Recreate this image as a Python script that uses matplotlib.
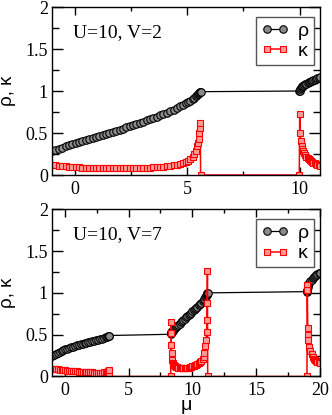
import matplotlib as mpl

mpl.use("Agg")
import matplotlib.pyplot as plt

plt.rcParams["font.family"] = ["Liberation Serif", "DejaVu Serif"]

# U=10, V=2 : chemical potential, density rho and compressibility kappa
mu_v2 = [
    -1.0, -0.85, -0.7, -0.55, -0.4, -0.25, -0.1, 0.05, 0.2, 0.35,
    0.5, 0.65, 0.8, 0.95, 1.1, 1.25, 1.4, 1.55, 1.7, 1.85,
    2.0, 2.15, 2.3, 2.45, 2.6, 2.75, 2.9, 3.05, 3.2, 3.35,
    3.5, 3.65, 3.8, 3.95, 4.1, 4.25, 4.4, 4.55, 4.7, 4.82,
    4.94, 5.05, 5.15, 5.24, 5.32, 5.39, 5.45, 5.5, 5.53, 5.55,
    5.57, 5.58, 5.6, 9.98,
    10.0, 10.02, 10.05, 10.08, 10.12, 10.16, 10.2, 10.25, 10.3, 10.35,
    10.4, 10.45, 10.5, 10.55, 10.6, 10.66, 10.72, 10.78, 10.84, 10.9,
]
rho_v2 = [
    0.285, 0.299, 0.313, 0.327, 0.341, 0.355, 0.369, 0.384, 0.396, 0.408,
    0.420, 0.432, 0.444, 0.456, 0.468, 0.480, 0.492, 0.504, 0.516, 0.528,
    0.540, 0.553, 0.567, 0.580, 0.594, 0.607, 0.621, 0.635, 0.650, 0.665,
    0.680, 0.695, 0.710, 0.725, 0.741, 0.759, 0.777, 0.796, 0.817, 0.834,
    0.852, 0.870, 0.887, 0.904, 0.921, 0.937, 0.952, 0.964, 0.973, 0.980,
    0.986, 0.990, 0.992, 1.000,
    1.005, 1.020, 1.035, 1.045, 1.055, 1.064, 1.072, 1.080, 1.088, 1.095,
    1.102, 1.109, 1.116, 1.122, 1.129, 1.136, 1.143, 1.150, 1.157, 1.165,
]
kappa_v2 = [
    0.120, 0.115, 0.110, 0.106, 0.102, 0.099, 0.096, 0.093, 0.091, 0.089,
    0.087, 0.086, 0.084, 0.083, 0.082, 0.081, 0.081, 0.080, 0.080, 0.080,
    0.080, 0.081, 0.081, 0.082, 0.083, 0.084, 0.085, 0.086, 0.088, 0.089,
    0.091, 0.093, 0.096, 0.099, 0.103, 0.108, 0.114, 0.121, 0.131, 0.141,
    0.154, 0.170, 0.190, 0.215, 0.250, 0.290, 0.340, 0.380, 0.430, 0.500,
    0.560, 0.615, 0.0, 0.0,
    0.730, 0.500, 0.400, 0.350, 0.310, 0.280, 0.260, 0.235, 0.220, 0.205,
    0.190, 0.178, 0.167, 0.157, 0.148, 0.138, 0.130, 0.122, 0.115, 0.108,
]

# U=10, V=7
mu_v7 = [
    -1.0, -0.85, -0.7, -0.55, -0.4, -0.25, -0.1, 0.05, 0.2, 0.35,
    0.5, 0.65, 0.8, 0.95, 1.1, 1.25, 1.4, 1.55, 1.7, 1.85,
    2.0, 2.15, 2.3, 2.45, 2.6, 2.75, 2.9, 3.05, 3.2, 3.3,
    3.38, 3.43, 3.47, 8.3,
    8.32, 8.33, 8.35, 8.37, 8.4, 8.45, 8.5, 8.56, 8.63, 8.7,
    8.8, 8.9, 9.0, 9.1, 9.2, 9.3, 9.4, 9.5, 9.6, 9.7,
    9.8, 9.9, 10.0, 10.1, 10.2, 10.3, 10.4, 10.5, 10.6, 10.7,
    10.8, 10.88, 10.95, 11.02, 11.07, 11.11, 11.14, 11.16, 11.18,
    11.2, 18.98,
    19.0, 19.01, 19.04, 19.07, 19.1, 19.16, 19.25, 19.34, 19.42, 19.5,
    19.6, 19.7, 19.8, 19.9, 20.0,
]
rho_v7 = [
    0.245, 0.259, 0.272, 0.284, 0.295, 0.305, 0.315, 0.324, 0.333, 0.341,
    0.349, 0.357, 0.364, 0.371, 0.378, 0.385, 0.392, 0.398, 0.404, 0.410,
    0.416, 0.422, 0.428, 0.434, 0.440, 0.446, 0.452, 0.459, 0.467, 0.474,
    0.481, 0.487, 0.490, 0.505,
    0.520, 0.525, 0.530, 0.535, 0.542, 0.550, 0.557, 0.566, 0.577, 0.588,
    0.603, 0.618, 0.633, 0.648, 0.663, 0.678, 0.693, 0.708, 0.722, 0.736,
    0.750, 0.764, 0.778, 0.792, 0.806, 0.820, 0.835, 0.850, 0.866, 0.882,
    0.899, 0.913, 0.927, 0.945, 0.960, 0.972, 0.982, 0.990, 0.995,
    1.000, 1.015,
    1.020, 1.040, 1.070, 1.090, 1.105, 1.120, 1.140, 1.160, 1.175, 1.190,
    1.205, 1.215, 1.225, 1.232, 1.237,
]
kappa_v7 = [
    0.095, 0.091, 0.088, 0.085, 0.082, 0.079, 0.076, 0.073, 0.071, 0.068,
    0.066, 0.064, 0.062, 0.060, 0.058, 0.056, 0.054, 0.053, 0.051, 0.050,
    0.049, 0.048, 0.047, 0.046, 0.046, 0.046, 0.047, 0.049, 0.053, 0.058,
    0.065, 0.072, 0.0, 0.0,
    0.655, 0.517, 0.377, 0.277, 0.197, 0.165, 0.145, 0.132, 0.122, 0.115,
    0.108, 0.103, 0.100, 0.098, 0.098, 0.098, 0.099, 0.101, 0.104, 0.107,
    0.111, 0.115, 0.120, 0.126, 0.132, 0.139, 0.147, 0.157, 0.169, 0.184,
    0.205, 0.230, 0.277, 0.360, 0.437, 0.536, 0.676, 0.876, 1.266,
    0.0, 0.0,
    1.094, 1.035, 0.576, 0.496, 0.437, 0.357, 0.300, 0.265, 0.235, 0.212,
    0.195, 0.182, 0.174, 0.168, 0.165,
]

panels = [
    (mu_v2, rho_v2, kappa_v2, "U=10, V=2", (-1.0, 10.9), [0, 5, 10]),
    (mu_v7, rho_v7, kappa_v7, "U=10, V=7", (-1.0, 20.0), [0, 5, 10, 15, 20]),
]
rects = [
    [0.1566, 0.5783, 0.8072, 0.4048],
    [0.1566, 0.0928, 0.8072, 0.4029],
]
sans = ["Liberation Sans", "DejaVu Sans"]

fig = plt.figure(figsize=(3.32, 4.15), dpi=100)
for (mu, rho, kappa, note, xlim, xticks), rect in zip(panels, rects):
    ax = fig.add_axes(rect)
    ax.plot(mu, rho, color="black", linewidth=0.9, marker="o", markersize=5.4,
            markerfacecolor="#8a8a8a", markeredgecolor="black",
            markeredgewidth=0.8, label="\u03c1")
    ax.plot(mu, kappa, color="red", linewidth=1.1, marker="s", markersize=4.6,
            markerfacecolor="#ff9a9a", markeredgecolor="red",
            markeredgewidth=0.8, label="\u03ba")
    ax.set_xlim(*xlim)
    ax.set_ylim(0, 2)
    ax.set_xticks(xticks)
    ax.set_xticks([t + 2.5 for t in xticks if t + 2.5 < xlim[1]], minor=True)
    ax.set_yticks([0, 0.5, 1, 1.5, 2])
    ax.set_yticklabels(["0", "0.5", "1", "1.5", "2"])
    ax.set_yticks([0.25, 0.75, 1.25, 1.75], minor=True)
    ax.tick_params(which="both", direction="in", top=True, right=True,
                   labelsize=13, width=1)
    ax.tick_params(axis="x", which="major", length=5.5, pad=4)
    ax.tick_params(axis="x", which="minor", length=3)
    ax.tick_params(axis="y", which="major", length=8, pad=3)
    ax.tick_params(axis="y", which="minor", length=5)
    for sp in ax.spines.values():
        sp.set_linewidth(1.0)
    ax.text(0.078, 0.85, note, transform=ax.transAxes, fontsize=14,
            ha="left", va="center")
    ax.set_ylabel("\u03c1, \u03ba", family=sans, fontsize=13.5)
    ax.yaxis.set_label_coords(-0.135, 0.5)
    leg = ax.legend(loc="upper right", bbox_to_anchor=(0.978, 0.94),
                    numpoints=2, handlelength=1.4, handletextpad=0.5,
                    borderpad=0.25, labelspacing=0.15, borderaxespad=0,
                    fancybox=False, framealpha=1,
                    prop={"family": sans, "size": 14})
    leg.get_frame().set_edgecolor("#555555")
    leg.get_frame().set_linewidth(1.0)

ax.set_xlabel("\u03bc", family=sans, fontsize=14)
ax.xaxis.set_label_coords(0.5, -0.125)

fig.savefig("out.png", dpi=100)
plt.close(fig)
